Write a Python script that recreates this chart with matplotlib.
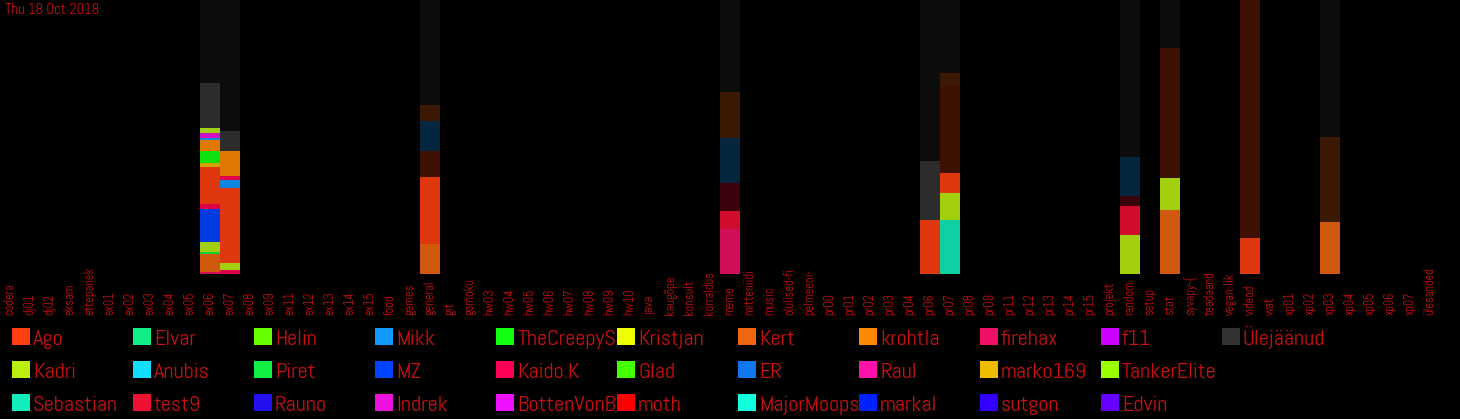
import matplotlib
matplotlib.use('Agg')
from matplotlib import pyplot as plt
from matplotlib.patches import Rectangle
from matplotlib.transforms import Bbox, TransformedBbox, blended_transform_factory

plt.rcParams['font.family'] = ['Abel', 'DejaVu Sans']

date_text = 'Thu 18 Oct 2018'

channels = ['codera', 'dj01', 'dj02', 'eksam', 'ettepanek', 'ex01', 'ex02', 'ex03', 'ex04', 'ex05',
            'ex06', 'ex07', 'ex08', 'ex09', 'ex11', 'ex12', 'ex13', 'ex14', 'ex15', 'food',
            'games', 'general', 'git', 'gomoku', 'hw03', 'hw04', 'hw05', 'hw06', 'hw07', 'hw08',
            'hw09', 'hw10', 'java', 'kaugõpe', 'konsult', 'korraldus', 'meme', 'mitteniidi', 'music', 'olulised-fi',
            'pelmeeni-', 'pr00', 'pr01', 'pr02', 'pr03', 'pr04', 'pr06', 'pr07', 'pr08', 'pr09',
            'pr11', 'pr12', 'pr13', 'pr14', 'pr15', 'projekt', 'random', 'setup', 'stat', 'syvapy-{',
            'teadaand', 'vegan-lik', 'videod', 'wat', 'xp01', 'xp02', 'xp03', 'xp04', 'xp05', 'xp06',
            'xp07', 'ülesanded']

# legend order (column by column, 3 rows)
users = ['Ago', 'Kadri', 'Sebastian', 'Elvar', 'Anubis', 'test9', 'Helin', 'Piret', 'Rauno',
         'Mikk', 'MZ', 'Indrek', 'TheCreepySh', 'Kaido.K', 'BottenVonBot', 'Kristjan', 'Glad', 'moth',
         'Kert', 'ER', 'MajorMoopsy', 'krohtla', 'Raul', 'markal', 'firehax', 'marko169', 'sutgon',
         'f11', 'TankerElite', 'Edvin', 'Ülejäänud']
user_colors = ['#ff4010', '#bbee11', '#11eebb', '#11ee88', '#11ddff', '#ee1133', '#66ff00', '#11ee44', '#2211ee',
               '#1199ff', '#0044ff', '#ee11dd', '#11ff11', '#ff0055', '#ee11ff', '#eeff00', '#44ff00', '#ff0000',
               '#ee6611', '#1177ee', '#11ffdd', '#ff8800', '#ff11aa', '#0022ff', '#ee1166', '#eebb00', '#3300ff',
               '#cc00ff', '#99ff00', '#6600ff', '#333333']

# stacks from bottom to top: (user, messages, older period)
stacks = {
    'ex06': [('firehax', 2, False), ('Kert', 18, False), ('Piret', 2, False), ('Kadri', 10, False),
             ('MZ', 33, False), ('Kaido.K', 5, False), ('Ago', 37, False), ('marko169', 4, False),
             ('TheCreepySh', 12, False), ('krohtla', 11, False), ('Mikk', 2, False), ('Indrek', 5, False),
             ('Kadri', 5, False), ('Ülejäänud', 45, False), ('Ülejäänud', 83, True)],
    'ex07': [('Kaido.K', 4, False), ('Kadri', 7, False), ('Ago', 75, False), ('Mikk', 8, False),
             ('Kaido.K', 4, False), ('krohtla', 25, False), ('Ülejäänud', 20, False), ('Ülejäänud', 131, True)],
    'general': [('Kert', 30, False), ('Ago', 67, False), ('Ago', 26, True), ('Mikk', 30, True),
                ('Kert', 16, True), ('Ülejäänud', 105, True)],
    'meme': [('firehax', 45, False), ('test9', 18, False), ('test9', 28, True), ('Mikk', 45, True),
             ('Kert', 46, True), ('Ülejäänud', 92, True)],
    'pr06': [('Ago', 54, False), ('Ülejäänud', 59, False), ('Ülejäänud', 161, True)],
    'pr07': [('Sebastian', 54, False), ('Kadri', 27, False), ('Ago', 20, False), ('Ago', 87, True),
             ('Kert', 13, True), ('Ülejäänud', 73, True)],
    'random': [('Kadri', 39, False), ('test9', 29, False), ('test9', 10, True), ('Mikk', 39, True),
               ('Ülejäänud', 157, True)],
    'stat': [('Kert', 64, False), ('Kadri', 32, False), ('Ago', 130, True), ('Ülejäänud', 48, True)],
    'videod': [('Ago', 36, False), ('Ago', 238, True)],
    'xp03': [('Kert', 52, False), ('Kert', 85, True), ('Ülejäänud', 137, True)],
}

BG = '#000000'
TXT = '#cc1010'
W, H = 1460, 419

fig = plt.figure(figsize=(W / 100, H / 100), dpi=100, facecolor=BG)
ax = fig.add_axes([0, 145 / H, 1440 / W, 274 / H])
ax.set_facecolor(BG)

color_of = dict(zip(users, user_colors))
for ch, segs in stacks.items():
    x = channels.index(ch)
    bottom = 0
    for user, val, old in segs:
        ax.bar(x, val, bottom=bottom, width=1.0, color=color_of[user],
               alpha=0.25 if old else 0.88, linewidth=0)
        bottom += val

ax.set_xlim(-0.5, len(channels) - 0.5)
ax.set_ylim(0, 274)
ax.axis('off')

# channel names, rotated, starting from the bottom
trans = blended_transform_factory(ax.transData, ax.transAxes)
for i, ch in enumerate(channels):
    ax.text(i, -41 / 274, ch, transform=trans, rotation=90, ha='center', va='bottom',
            color=TXT, fontsize=9, clip_on=False)

fig.text(5 / W, 1 - 3 / H, date_text, va='top', ha='left', color=TXT, fontsize=10.5)

# legend
col_w = 121
for i, (name, c) in enumerate(zip(users, user_colors)):
    col, row = divmod(i, 3)
    x0 = 12 + col * col_w
    base = 345 + row * 33
    fig.add_artist(Rectangle((x0 / W, 1 - base / H), 18 / W, 17 / H,
                             transform=fig.transFigure, facecolor=c, edgecolor='none'))
    t = fig.text((x0 + 21) / W, 1 - base / H, name, va='baseline', ha='left',
                 color=TXT, fontsize=16)
    t.set_clip_box(TransformedBbox(Bbox([[x0 / W, 0], [(x0 + col_w) / W, 1]]), fig.transFigure))
    t.set_clip_on(True)

fig.savefig('out.png', dpi=100, facecolor=BG)
